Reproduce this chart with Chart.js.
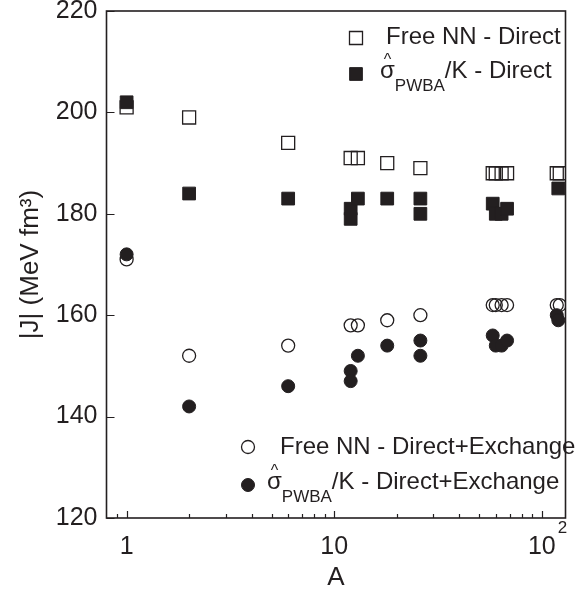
<!DOCTYPE html>
<html lang="en">
<head>
  <meta charset="UTF-8">
  <title>|J| versus A</title>
  <script src="https://cdn.jsdelivr.net/npm/chart.js"></script>
  <style>
    html, body { margin: 0; padding: 0; background: #fff; }
  </style>
</head>
<body>
  <canvas id="jChart" width="576" height="594"></canvas>

  <script>
    // volume integrals |J| (MeV fm^3) against target mass number A
    const freeDirectA = [1, 2, 6, 12, 13, 18, 26, 58, 60, 64, 68, 118, 122];
    const freeDirectJ = [201, 199, 194, 191, 191, 190, 189, 188, 188, 188, 188, 188, 188];

    const pwbaDirectA = [1, 2, 6, 12, 12, 13, 18, 26, 26, 58, 60, 64, 68, 120];
    const pwbaDirectJ = [202, 184, 183, 181, 179, 183, 183, 183, 180, 182, 180, 180, 181, 185];

    const freeExchA = [1, 2, 6, 12, 13, 18, 26, 58, 60, 64, 68, 118, 122];
    const freeExchJ = [171, 152, 154, 158, 158, 159, 160, 162, 162, 162, 162, 162, 162];

    const pwbaExchA = [1, 2, 6, 12, 12, 13, 18, 26, 26, 58, 60, 64, 68, 118, 120];
    const pwbaExchJ = [172, 142, 146, 149, 147, 152, 154, 155, 152, 156, 154, 154, 155, 160, 159];

    const xLabelValues = [1, 10, 100];
    const yTickStep = 20;

    const INK = '#231f20';
    const FONT = '"Liberation Sans", Arial, Helvetica, sans-serif';

    function points(xs, ys) {
      return xs.map((a, i) => ({ x: a, y: ys[i] }));
    }

    function isDecade(v) {
      const l = Math.log10(v);
      return Math.abs(l - Math.round(l)) < 1e-9;
    }

    function drawMarker(ctx, ds, x, y) {
      ctx.save();
      ctx.lineWidth = ds.borderWidth;
      ctx.strokeStyle = ds.borderColor;
      ctx.fillStyle = ds.backgroundColor;
      ctx.beginPath();
      if (ds.pointStyle === 'rect') {
        const h = Math.SQRT1_2 * ds.pointRadius;
        ctx.rect(x - h, y - h, 2 * h, 2 * h);
      } else {
        ctx.arc(x, y, ds.pointRadius, 0, Math.PI * 2);
      }
      ctx.fill();
      ctx.stroke();
      ctx.restore();
    }

    // legend rows: marker centre and start of the text
    const legendRows = [
      { ds: 0, mx: 356, my: 38, tx: 386, ty: 37 },
      { ds: 1, mx: 356, my: 74, tx: 380, ty: 71 },
      { ds: 2, mx: 248, my: 447, tx: 280, ty: 447 },
      { ds: 3, mx: 248, my: 485, tx: 267, ty: 482 }
    ];

    const framePlugin = {
      id: 'frame',
      afterDatasetsDraw(chart) {
        const { ctx, chartArea: a, scales: { x, y } } = chart;
        ctx.save();

        // box round the plot
        ctx.strokeStyle = INK;
        ctx.lineWidth = 1.6;
        ctx.strokeRect(a.left, a.top, a.right - a.left, a.bottom - a.top);

        // inward tick marks
        ctx.lineWidth = 1.2;
        ctx.beginPath();
        y.ticks.forEach(t => {
          const py = Math.round(y.getPixelForValue(t.value)) + 0.5;
          ctx.moveTo(a.left, py);
          ctx.lineTo(a.left + 8, py);
        });
        x.ticks.forEach(t => {
          const px = Math.round(x.getPixelForValue(t.value)) + 0.5;
          const len = isDecade(t.value) ? 7 : 4;
          ctx.moveTo(px, a.bottom);
          ctx.lineTo(px, a.bottom - len);
        });
        ctx.stroke();

        // x tick labels, powers of ten above 10 written as 10^n
        ctx.fillStyle = INK;
        ctx.textBaseline = 'alphabetic';
        xLabelValues.forEach(v => {
          const px = x.getPixelForValue(v);
          const e = Math.round(Math.log10(v));
          ctx.font = '25px ' + FONT;
          ctx.textAlign = 'center';
          if (e < 2) {
            ctx.fillText(String(v), px, a.bottom + 36);
          } else {
            ctx.fillText('10', px, a.bottom + 36);
            const w = ctx.measureText('10').width;
            ctx.font = '17px ' + FONT;
            ctx.textAlign = 'left';
            ctx.fillText(String(e), px + w / 2 + 2, a.bottom + 15);
          }
        });

        // legend
        legendRows.forEach(row => {
          const ds = chart.data.datasets[row.ds];
          drawMarker(ctx, ds, row.mx, row.my);
          ctx.fillStyle = INK;
          ctx.textAlign = 'left';
          ctx.textBaseline = 'middle';
          ctx.font = '24px ' + FONT;
          if (!ds.sub) {
            ctx.fillText(ds.label, row.tx, row.ty);
            return;
          }
          let cx = row.tx;
          ctx.fillText('σ', cx, row.ty);
          const sw = ctx.measureText('σ').width;
          ctx.font = '16px ' + FONT;
          ctx.textAlign = 'center';
          ctx.fillText('^', cx + sw / 2, row.ty - 10);
          cx += sw;
          ctx.textAlign = 'left';
          ctx.font = '17px ' + FONT;
          ctx.fillText(ds.sub, cx, row.ty + 15);
          cx += ctx.measureText(ds.sub).width;
          ctx.font = '24px ' + FONT;
          ctx.fillText(ds.tail, cx, row.ty);
        });

        ctx.restore();
      }
    };

    const openStyle = { backgroundColor: 'rgba(0,0,0,0)', borderColor: INK, borderWidth: 1.3 };
    const fillStyle = { backgroundColor: INK, borderColor: INK, borderWidth: 1 };

    const chart = new Chart(document.getElementById('jChart'), {
      type: 'scatter',
      data: {
        datasets: [
          Object.assign({
            label: 'Free NN - Direct',
            data: points(freeDirectA, freeDirectJ),
            pointStyle: 'rect', pointRadius: 9.2, order: 2
          }, openStyle),
          Object.assign({
            label: 'σPWBA/K - Direct', sub: 'PWBA', tail: '/K - Direct',
            data: points(pwbaDirectA, pwbaDirectJ),
            pointStyle: 'rect', pointRadius: 9, order: 1
          }, fillStyle),
          Object.assign({
            label: 'Free NN - Direct+Exchange',
            data: points(freeExchA, freeExchJ),
            pointStyle: 'circle', pointRadius: 6.5, order: 2
          }, openStyle),
          Object.assign({
            label: 'σPWBA/K - Direct+Exchange', sub: 'PWBA', tail: '/K - Direct+Exchange',
            data: points(pwbaExchA, pwbaExchJ),
            pointStyle: 'circle', pointRadius: 6.5, order: 1
          }, fillStyle)
        ]
      },
      options: {
        responsive: false,
        animation: false,
        devicePixelRatio: 1,
        layout: { padding: { top: 11, right: 2, left: 0, bottom: 0 } },
        plugins: { legend: { display: false }, tooltip: { enabled: false } },
        elements: { point: { hoverRadius: 0 } },
        scales: {
          x: {
            type: 'logarithmic',
            min: 0.8,
            max: 130,
            grid: { display: false, drawTicks: false },
            border: { display: false },
            ticks: { display: false },
            afterBuildTicks(scale) {
              const ticks = [];
              for (let e = -1; e <= 2; e++) {
                for (let m = 1; m <= 9; m++) {
                  const v = m * Math.pow(10, e);
                  if (v > scale.min && v < scale.max) ticks.push({ value: v });
                }
              }
              scale.ticks = ticks;
            },
            afterFit(scale) {
              scale.height = 76;
              scale.paddingLeft = 0;
              scale.paddingRight = 0;
            },
            title: {
              display: true,
              text: 'A',
              color: INK,
              font: { family: FONT, size: 26 },
              padding: { top: 0, bottom: 1 }
            }
          },
          y: {
            min: 120,
            max: 220,
            grid: { display: false, drawTicks: false },
            border: { display: false },
            ticks: {
              stepSize: yTickStep,
              padding: 9,
              color: INK,
              font: { family: FONT, size: 25 }
            },
            afterFit(scale) {
              scale.width = 106.5;
              scale.paddingTop = 0;
              scale.paddingBottom = 0;
            },
            title: {
              display: true,
              text: '|J| (MeV fm³)',
              color: INK,
              font: { family: FONT, size: 26 },
              padding: { top: 15, bottom: 0 }
            }
          }
        }
      },
      plugins: [framePlugin]
    });
  </script>
</body>
</html>
